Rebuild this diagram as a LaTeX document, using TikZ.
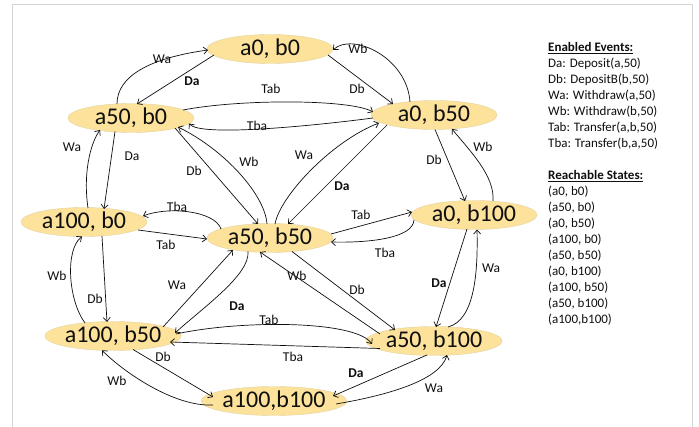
\documentclass[tikz,border=0pt]{standalone}
\usepackage{fontspec}
\setmainfont{Carlito}
\usetikzlibrary{shapes.geometric,arrows.meta,calc}
\definecolor{nodefill}{RGB}{252,226,154}
\definecolor{nodeedge}{RGB}{228,210,160}
\definecolor{framegray}{RGB}{212,212,212}
\definecolor{ink}{RGB}{15,15,15}
\begin{document}
\begin{tikzpicture}[x=1pt,y=-1pt,
  state/.style={ellipse, fill=nodefill, draw=nodeedge, line width=0.4pt, minimum width=126pt, minimum height=29pt, inner sep=0pt, text=ink, font=\fontsize{24}{28}\selectfont},
  lbl/.style={inner sep=0pt, text=ink, font=\fontsize{13.5}{16}\selectfont},
  blbl/.style={inner sep=0pt, text=ink, font=\fontsize{13.5}{16}\selectfont\bfseries},
  edge/.style={ink, line width=0.7pt, -{Straight Barb[length=4pt,width=7pt]}},
  info/.style={anchor=west, inner sep=0pt, text=ink, font=\fontsize{13}{16}\selectfont}]
\useasboundingbox (0,0) rectangle (699,427);
\fill[white] (0,0) rectangle (699,427);
\draw[framegray, line width=1pt] (12,427) -- (12,5) -- (692,5) -- (692,427);

% states
\node[state] (N1) at (270,49)  {a0, b0};
\node[state] (N2) at (131,118) {a50, b0};
\node[state] (N3) at (434,115) {a0, b50};
\node[state] (N4) at (84,222)  {a100, b0};
\node[state] (N5) at (270,238) {a50, b50};
\node[state] (N6) at (474,215) {a0, b100};
\node[state] (N7) at (113,336) {a100, b50};
\node[state] (N8) at (434,341) {a50, b100};
\node[state] (N9) at (274,401) {a100,b100};

% edges
\draw[edge] ($(N2)+(-14,-14)$) .. controls +(0,-28) and +(-58,8) .. ($(N1)+(-62,1)$);
\draw[edge] ($(N1)+(-56,6)$) -- ($(N2)+(6,-14)$);
\draw[edge] ($(N3)+(-24,-13)$) .. controls +(-3,-45) and +(19,-18) .. ($(N1)+(63,1)$);
\draw[edge] ($(N1)+(58,6)$) -- ($(N3)+(-41,-11)$);
\draw[edge] ($(N2)+(52,-8)$) .. controls +(57,-11) and +(-23,-13) .. ($(N3)+(-61,-3)$);
\draw[edge] ($(N3)+(-61,3)$) .. controls +(-53,7) and +(11,14) .. ($(N2)+(58,5.5)$);
\draw[edge] ($(N2)+(-16,13.5)$) -- ($(N4)+(20,-13)$);
\draw[edge] ($(N4)+(4,-14)$) .. controls +(-5,-34) and +(-10,14) .. ($(N2)+(-31,12)$);
\draw[edge] ($(N2)+(44,10)$) -- ($(N5)+(-12,-14)$);
\draw[edge] ($(N5)+(-3,-14)$) .. controls +(-2,-29) and +(47,23) .. ($(N2)+(47,9)$);
\draw[edge] ($(N5)+(5,-14)$) .. controls +(5,-28) and +(-47,18) .. ($(N3)+(-55,8)$);
\draw[edge] ($(N3)+(-47,10)$) -- ($(N5)+(18,-14)$);
\draw[edge] ($(N5)+(-49,-9)$) .. controls +(-6,-18) and +(26,-10) .. ($(N4)+(59,-6)$);
\draw[edge] ($(N4)+(54,8)$) -- ($(N5)+(-63,1)$);
\draw[edge] ($(N5)+(61,-4)$) -- ($(N6)+(-62,-3)$);
\draw[edge] ($(N6)+(-60,5)$) .. controls +(-1,18) and +(39,1) .. ($(N5)+(61,4)$);
\draw[edge] ($(N3)+(1,14.5)$) -- ($(N6)+(-9,-14)$);
\draw[edge] ($(N6)+(19,-14)$) .. controls +(2,-25) and +(18,22) .. ($(N3)+(18,14)$);
\draw[edge] ($(N6)+(-7,14)$) -- ($(N8)+(2,-14)$);
\draw[edge] ($(N8)+(14,-14)$) .. controls +(27,-7) and +(1,42) .. ($(N6)+(3,14.5)$);
\draw[edge] ($(N8)+(-54,-7)$) -- ($(N5)+(-10,14)$);
\draw[edge] ($(N5)+(22,13.5)$) -- ($(N8)+(-39,-11)$);
\draw[edge] ($(N7)+(50,-9)$) -- ($(N5)+(-37,12)$);
\draw[edge] ($(N5)+(-22,13.5)$) .. controls +(2,23) and +(30,-27) .. ($(N7)+(62,-3)$);
\draw[edge] ($(N7)+(63,-2)$) .. controls +(64,-14) and +(-17,-24) .. ($(N8)+(-62,3)$);
\draw[edge] ($(N8)+(-54,7.5)$) -- ($(N7)+(57,6)$);
\draw[edge] ($(N7)+(20,13.5)$) -- ($(N9)+(-61,-4)$);
\draw[edge] ($(N9)+(-61,4)$) .. controls +(-38,2) and +(23,23) .. ($(N7)+(-11,14.3)$);
\draw[edge] ($(N4)+(18,14)$) -- ($(N7)+(-6,-14)$);
\draw[edge] ($(N7)+(-28,-13)$) .. controls +(-17,-23) and +(-17,13) .. ($(N4)+(-2,14.5)$);
\draw[edge] ($(N8)+(-7,14)$) -- ($(N9)+(59,-5)$);
\draw[edge] ($(N9)+(62,3)$) .. controls +(53,-9) and +(-7,25) .. ($(N8)+(13,14)$);

% edge labels
\node[lbl]  (L1)  at (162,59)  {Wa};
\node[blbl] (L2)  at (192,81)  {Da};
\node[lbl]  (L3)  at (358,49)  {Wb};
\node[lbl]  (L4)  at (357,89)  {Db};
\node[lbl]  (L5)  at (271,89)  {Tab};
\node[lbl]  (L6)  at (257,126) {Tba};
\node[lbl]  (L7)  at (132,156) {Da};
\node[lbl]  (L8)  at (72,147)  {Wa};
\node[lbl]  (L9)  at (194,171) {Db};
\node[lbl]  (L10) at (249,162) {Wb};
\node[lbl]  (L11) at (304,155) {Wa};
\node[blbl] (L12) at (342,186) {Da};
\node[lbl]  (L13) at (177,207) {Tba};
\node[lbl]  (L14) at (166,245) {Tab};
\node[lbl]  (L15) at (361,215) {Tab};
\node[lbl]  (L16) at (385,253) {Tba};
\node[lbl]  (L17) at (434,160) {Db};
\node[lbl]  (L18) at (483,147) {Wb};
\node[blbl] (L19) at (439,283) {Da};
\node[lbl]  (L20) at (491,268) {Wa};
\node[lbl]  (L21) at (297,276) {Wb};
\node[lbl]  (L22) at (357,290) {Db};
\node[lbl]  (L23) at (177,285) {Wa};
\node[blbl] (L24) at (237,306) {Da};
\node[lbl]  (L25) at (269,320) {Tab};
\node[lbl]  (L26) at (293,357) {Tba};
\node[lbl]  (L27) at (163,357) {Db};
\node[lbl]  (L28) at (117,381) {Wb};
\node[lbl]  (L29) at (95,299)  {Db};
\node[lbl]  (L30) at (57,276)  {Wb};
\node[blbl] (L31) at (356,373) {Da};
\node[lbl]  (L32) at (434,388) {Wa};

% legend
\node[info] (H1) at (548,48)  {\underline{\textbf{Enabled Events:}}};
\node[info] (E1) at (548,64)  {Da: Deposit(a,50)};
\node[info] (E2) at (548,80)  {Db: DepositB(b,50)};
\node[info] (E3) at (548,96)  {Wa: Withdraw(a,50)};
\node[info] (E4) at (548,112) {Wb: Withdraw(b,50)};
\node[info] (E5) at (548,128) {Tab: Transfer(a,b,50)};
\node[info] (E6) at (548,144) {Tba: Transfer(b,a,50)};
\node[info] (H2) at (548,176) {\underline{\textbf{Reachable States:}}};
\node[info] (S1) at (548,192) {(a0, b0)};
\node[info] (S2) at (548,208) {(a50, b0)};
\node[info] (S3) at (548,224) {(a0, b50)};
\node[info] (S4) at (548,240) {(a100, b0)};
\node[info] (S5) at (548,256) {(a50, b50)};
\node[info] (S6) at (548,272) {(a0, b100)};
\node[info] (S7) at (548,288) {(a100, b50)};
\node[info] (S8) at (548,304) {(a50, b100)};
\node[info] (S9) at (548,320) {(a100,b100)};
\end{tikzpicture}
\end{document}
